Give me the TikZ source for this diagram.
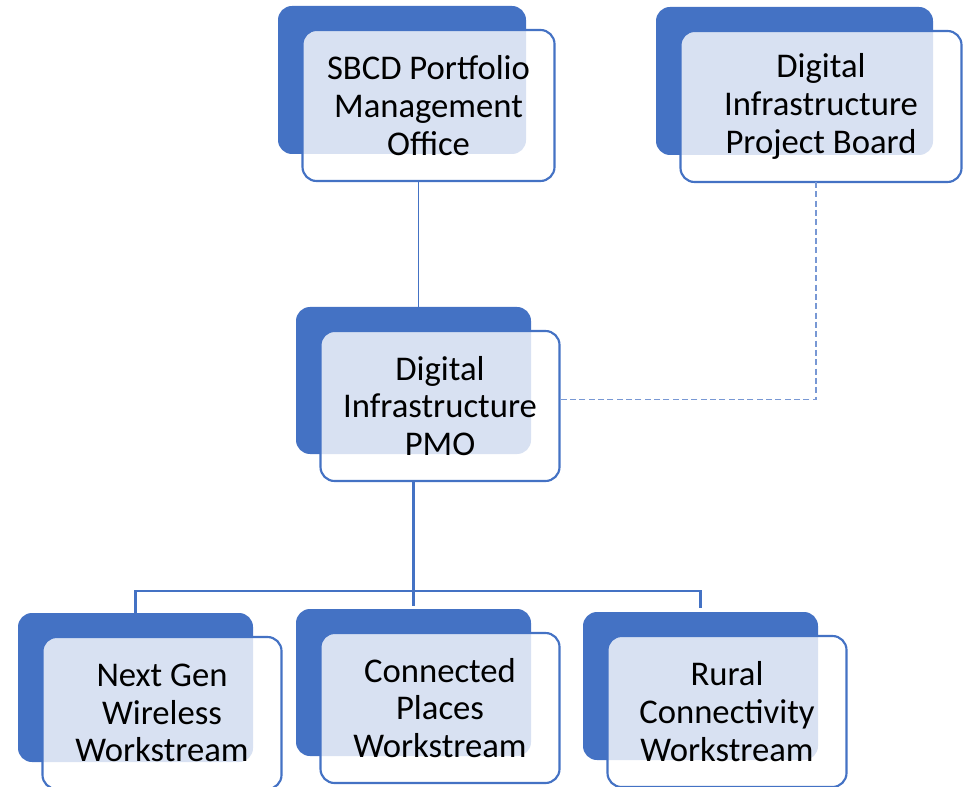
\documentclass[tikz,border=0pt]{standalone}
\usepackage{fontspec}
\setmainfont{Carlito}
\definecolor{obl}{HTML}{4472C4}
\definecolor{dashc}{RGB}{120,152,212}
\definecolor{texc}{RGB}{216,225,242}
\tikzset{
  backbox/.style={rectangle, fill=obl, draw=none, rounded corners=10.5pt, inner sep=0pt, outer sep=0pt, anchor=north west},
  frontbox/.style={rectangle, fill=white, draw=obl, line width=1.6pt, rounded corners=10.5pt, inner sep=0pt, outer sep=0pt, anchor=north west, align=center, font=\fontsize{26}{28.3}\selectfont, text=black},
  conn/.style={draw=obl, line width=1.7pt},
  connthin/.style={draw=obl, line width=1.1pt},
  dashconn/.style={draw=dashc, line width=1pt, dash pattern=on 4.5pt off 2.5pt}
}
\newcommand\stackbox[6]{%
  \node[backbox, minimum width={0.75pt*#4}, minimum height={0.75pt*#5}] (#1B) at (#2,#3) {};
  \node[frontbox, minimum width={0.75pt*(#4+4)}, minimum height={0.75pt*(#5+3)},
        path picture={\fill[texc, rounded corners=10.5pt] (#1B.north west) rectangle (#1B.south east);}]
        (#1F) at (#2+24.5,#3+24) {#6};
}
\begin{document}
\begin{tikzpicture}[x=0.75pt, y=-0.75pt]
\useasboundingbox (0,0) rectangle (970,787);
\stackbox{sbcd}{278}{6}{248}{148}{SBCD Portfolio\\Management\\Office}
\stackbox{dipb}{656}{7}{277}{148}{Digital\\Infrastructure\\Project Board}
\stackbox{pmo}{296}{307}{235}{147}{Digital\\Infrastructure\\PMO}
\stackbox{ng}{18}{613}{235}{149}{Next Gen\\Wireless\\Workstream}
\stackbox{cp}{296}{609}{235}{147}{Connected\\Places\\Workstream}
\stackbox{ru}{583}{612}{235}{148}{Rural\\Connectivity\\Workstream}
\coordinate (bus) at (0,591);
\draw[connthin] ([xshift=3.75pt]pmoB.north |- sbcdF.south) -- ([xshift=3.75pt,yshift=-12pt]pmoB.north);
\draw[dashconn] ([xshift=-3.75pt]dipbF.south) |- ([yshift=5pt]pmoF.east);
\draw[conn] (pmoF.south -| cpB.north) -- ([yshift=2pt]cpB.north);
\draw[conn] (ngB.north) -- (ngB.north |- bus) -- (ruB.north |- bus) -- ([yshift=3pt]ruB.north);
\end{tikzpicture}
\end{document}
